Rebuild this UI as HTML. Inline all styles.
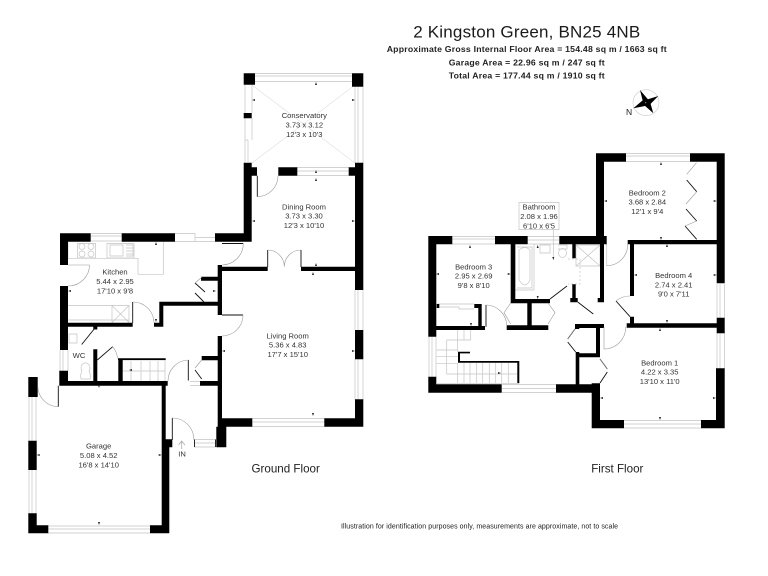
<!DOCTYPE html>
<html><head><meta charset="utf-8"><style>
html,body{margin:0;padding:0;background:#fff}
svg{display:block;filter:blur(0.35px)}
text{font-family:"Liberation Sans",sans-serif;fill:#1a1a1a}
.r{font-size:7.6px;text-anchor:middle;fill:#333}
.b{font-size:8.7px;font-weight:bold;text-anchor:middle;fill:#222}
.f{font-size:11.6px;text-anchor:middle;fill:#222}
</style></head><body>
<svg xmlns="http://www.w3.org/2000/svg" width="768" height="576" viewBox="0 0 768 576">
<rect width="768" height="576" fill="#fff"/>
<!-- light lines -->
<g fill="none" stroke="#c4c4c4" stroke-width="0.7">
<!-- conservatory windows -->
<path d="M255 73.5H352M255 76H352M255 81.5H352"/>
<path d="M245 85V162M252 85V113M252 118V140M245 140H248M248 140V162"/>
<path d="M355 87V163M363 87V163M358 87V163"/>
<path d="M252 85L355 163M355 85L252 163" stroke="#e2e2e2"/>
<!-- dining window -->
<path d="M297 167.5H349M297 171H349M297 175.5H349"/>
<!-- kitchen windows -->
<path d="M91 233.5H122M91 236H122M91 241H122"/>
<path d="M175 233.5H195V241.5H215M175 241.5H195M195 237.5H215"/>
<!-- kitchen units -->
<path d="M68 242V258.3H138V274.3H163.3V242M77.5 243.5H95.5V258H77.5ZM107 243.5H134V258H107Z"/>
<circle cx="82" cy="246.5" r="3"/><circle cx="91" cy="246.5" r="3"/><circle cx="82" cy="254" r="3"/><circle cx="91" cy="254" r="3"/>
<path d="M110 245H123V256H110ZM126 245H133V256H126M126 248H133M126 251H133M126 254H133"/>
<path d="M68 305.5H129V322.5M68 320H129M112 305.5V322.5M112 305.5L129 322.5M129 305.5L112 322.5" />
<!-- WC -->
<path d="M69 334H77V343H69ZM81 379H90C91 376 90 373 89 371A4.5 5 0 1 0 82 371C81 373 80 376 81 379Z"/>
<path d="M60 350V371M63 350V371M68 350V371"/>
<!-- stairs -->
<path d="M122 360H165V381M123 371H165M131 361V381M141 361V381M150 361V381M158 361V381"/>
<!-- garage windows -->
<path d="M29 397V441M32 397V441M36 397V441M29 470V514M32 470V514M36 470V514"/>
<path d="M48 526H150M48 529H150M48 533H150"/>
<!-- living windows -->
<path d="M355 290V330M358 290V330M363 290V330M355 359V400M358 359V400M363 359V400"/>
<path d="M252 418.5H325M252 422H325M252 426.5H325"/>
<path d="M194 439.5H216M194 443H216M194 447H216"/>
<path d="M190 381.5H200M190 385.5H200"/>
<!-- first floor windows -->
<path d="M626 153.5H690M626 156H690M626 161.5H690"/>
<path d="M452 236.5H495M452 239H495M452 244H495M528 236.5H559M528 240H559M528 244H559"/>
<path d="M717 284V318M720 284V318M724.5 284V318M717 333V369M720 333V369M724.5 333V369"/>
<path d="M429 337V377M432 337V377M436 337V377"/>
<path d="M502 384.5H556M502 388.5H556M502 392.5H556"/>
<path d="M624 420.5H701M624 424H701M624 428H701"/>
<!-- bathroom -->
<path d="M519 202.5H559V229.5H519ZM553.3 229.5V260"/>
<path d="M515 244V290H534V244M517 247H532V288H517M519 250Q525 245 530 250V280Q525 290 519 280Z"/>
<path d="M540 245H550V253H540ZM558 245H567V249H558M558.5 253A4 4.5 0 1 0 566.5 253A4 4.5 0 1 0 558.5 253"/>
<path d="M576 245H600V266H576ZM576 245L600 266M600 245L576 266"/>
<path d="M568 259H580V284H568" stroke-dasharray="2 2"/>
<!-- bedroom 3 cupboard -->
<path d="M437 304H474M437 307H459V309H474"/>
<!-- first floor stairs -->
<path d="M457.7 329V352M464 329V340M470.7 329V340M446.7 340H470.7M436.7 350H458M436.7 356.7H458M436.7 363.3H458M446.7 340V374H517M457.7 363V383.3M464 363V383.3M470 363V383.3M476.7 363V383.3M482.7 363V383.3M489.3 363V383.3M495.7 363V383.3M501.7 363V383.3M508.3 363V383.3M437 383.3H517"/>
<path d="M606.7 244V265.7"/>
</g>
<!-- walls -->
<path fill="#000" d="
M243.7 73.3h11.3v11.4h-11.3z M352 73.3h11.3v13.4h-11.3z M243.7 113h8v5.3h-8z
M243.7 162.7h8v79h-8z M355 162.7h8.3v127.3h-8.3z M251.7 167.3h5.3v8.4h-5.3z M278.3 167.3h19v8.4h-19z M348.7 167.3h6.3v8.4h-6.3z
M60 233.3h30.7v8.4H60z M121.7 233.3H175v8.4h-53.3z M215 233.3h36.7v8.4H215z M60 233.3h8V265h-8z M60 286h8v64h-8z M59.3 370.7H68V385h-8.7z
M220 266.7h47.7v4.3H220z M301 266.7h54v4.3h-54z
M217.7 265h4.3v50h-4.3z M217.7 336h4.3v107h-4.3z M216.3 426.7h10v20.6h-10z M222 418.3h30.3v8.4H222z M324.3 418.3h39v8.4h-39z M355 399.3h8.3v27.4H355z M355 330h8.3v29.3H355z
M159.3 301.7H220v4H159.3z M159.3 301.7h4v25h-4z M154 322.7h9.3v4H154z M68 322.7h64.7v4H68z
M93.3 349.3h4v32.4h-4z M93.3 326h4v3.5h-4z M118.3 358.3h4.4v23.4h-4.4z M118 358.3h47.7v1.7H118z
M59.3 381h108.4v4.7H59.3z M161.7 385h4v55h-4z M161.7 439.3h10.6v8h-10.6z M161.7 446h7.6v87.3h-7.6z M150 525.3h19.3v8H150z M28.3 525.3h20v8h-20z M28.3 513.3h8.4v20h-8.4z M28.3 440.7h8.4V470h-8.4z M28.3 377h9.4v20h-9.4z
M201.7 356H220v4.3h-18.3z M200 381h20v4.7h-20z M201 276.7h19v4h-19z
M596 153.3h30v8.4h-30z M690 153.3h34.7v8.4H690z M596 153.3h8V240h-8z M716.7 153.3h8v130h-8z M627.7 240h89v4.3h-89z
M559.3 236h47.4v8.3h-47.4z M495 236h32.7v8.3H495z M428.3 236h24v8.3h-24z M428.3 236h8v100.7h-8z
M510.7 244h4.6v59.3h-4.6z M510.7 299H550v4.3h-39.3z M527.3 303h4.4v25h-4.4z M506.7 325.3h41.6v4.7h-41.6z M436 326h49v4h-49z M474.3 304h7.4v4h-7.4z M478.3 304h3.4v24h-3.4z M436.7 304h2.6v4h-2.6z
M572.3 244h3.4v14.3h-3.4z M572.3 284.3h3.4v17.4h-3.4z M570.3 298h7.4v4.3h-7.4z M600 244h4v58.3h-4z M597.7 298h6.3v4.3h-6.3z
M630 244h4v52h-4z M626.7 323.3h90v4.4h-90z M630 316.7h4v7.3h-4z M716.7 317.7h8v15.6h-8z
M716 368.3h8.7v60H716z M591.7 420H624v8.3h-32.3z M701 420h23.7v8.3H701z M591.7 383.3h8.3v45h-8.3z
M428.3 384.3h73.4v8.4h-73.4z M556 384.3h44v8.4h-44z M428.3 376.7h8v16h-8z
M575 324h29v4h-29z M575 324h4.3v5h-4.3z M575.7 352h3.6v34h-3.6z M575.7 353.3H600v4h-24.3z M596 324h4v33h-4z
M458.3 351.7H470v1.7h-11.7z M458 351.7h2v11h-2z M458 361h61.3v1.7H458z M517.3 361h2v22.3h-2z
"/>
<!-- doors (black leaves) -->
<g fill="none" stroke="#111" stroke-width="0.9">
<path d="M257.3 175.7V196.7M222 243.5H243.3M267.7 250V267M301 250V267M132.7 302V323M222 315H243M188.3 360V380.5M172.3 418V440M58.3 385.7V406.7M486 305V326.7"/>
<path d="M194.5 439.5V447M215.5 439.5V447"/>
<path d="M81.7 344.5L95 328M97.3 360L112.7 346.7"/>
<path d="M195 283L205 292M195 293L204 302M195 370L201.7 379"/>
<path d="M550 299L567 286M577.7 302L593.3 314M616 301L630 316.7"/>
<path d="M686.7 180L696.7 191.7M686 209L696.7 221M685 226L696.7 239.3"/>
<path d="M575 329L567.7 339M567.7 342L575.7 352M600 359L607.3 369M607.3 372L600 383"/>
</g>
<g fill="none" stroke="#999" stroke-width="0.6">
<path d="M278 175.7A21 21 0 0 1 257.3 196.7M243.3 243.5A21.5 21.5 0 0 1 222 265M267.7 250A16.7 16.7 0 0 1 284.3 266.7M300.7 250A16.7 16.7 0 0 0 284.3 266.7"/>
<path d="M68 265H89.5M89.5 265A21.5 21 0 0 1 68 286M133 302A21 21 0 0 1 154 322.7M243 315A21 21 0 0 1 222 336M168 381A21 21 0 0 1 188.3 360M37.7 385.7A21 21 0 0 0 58.3 406.7M172.3 418A21.7 22 0 0 1 194 440M112.7 346.7Q116.5 351 117.7 358.3"/>
<path d="M606.7 265.7A21 21 0 0 0 627.7 244M486 305A21 21 0 0 1 506.7 325.3M604 327V349A21.7 21.7 0 0 0 625.7 327M630 296A21 21 0 0 0 616 301"/>
<path d="M510.7 303L504 312.7L510.7 324M548 303L555 312.7L548 324M575 329L567.7 339M600 359L607.3 369"/>
<path d="M696.5 162.7L686.7 174.3M696.7 191.7L686 204M696.7 221L685 226"/>
<path d="M195 283L202 277M201.7 360L195 368"/>
</g>
<!-- arrow markers -->
<g fill="#222">
<path d="M316 82l-1 3h2zM252 100l3 -1v2zM355 100l-3 -1v2zM316 170l-1 3h2zM316 178l-1 3h2zM252 221l3 -1v2zM355 221l-3 -1v2zM316 263l-1 3h2zM313 272l-1 3h2zM156 242l-1 3h2zM68 291l3 -1v2zM216 291l-3 -1v2zM156 322l-1 -3h2zM222 351l3 -1v2zM355 351l-3 -1v2zM313 416l-1 -3h2zM99 388l-1 -3h2zM36.7 455l3 -1v2zM161.7 455l-3 -1v2zM99 525l-1 -3h2zM129 370l3 -1v2z
M661 162l-1 3h2zM604 201l3 -1v2zM716.7 201l-3 -1v2zM661 240l-1 -3h2zM667 244l-1 3h2zM634 275l3 -1v2zM716.7 275l-3 -1v2zM667 323l-1 -3h2zM660 328l-1 3h2zM600 398l3 -1v2zM716 398l-3 -1v2zM660 420l-1 -3h2zM470 245l-1 3h2zM436 274l3 -1v2zM510.7 274l-3 -1v2zM471 326l-1 -3h2zM553.3 260l-1 -3h2zM537.7 245l-1 3h2zM537.7 299l-1 -3h2zM501 373l-3 -1v2z"/>
</g>
<!-- IN arrow -->
<path d="M181.7 449V441.5M178.5 445L181.7 441L185 445" fill="none" stroke="#aaa" stroke-width="0.8"/>
<!-- compass -->
<circle cx="646" cy="102.7" r="13" fill="none" stroke="#ccc" stroke-width="0.6"/>
<path d="M640 90L643.5 104L648.5 100Z M658.3 96L644 100.5L649 105.5Z M653.3 113.3L649.5 100L644 105Z M633.3 108.3L647.5 105.5L643 100Z" fill="#000"/>
<!-- text -->
<text x="526.7" y="37.3" font-size="17" text-anchor="middle" fill="#222" textLength="227">2 Kingston Green, BN25 4NB</text>
<text class="b" x="526.7" y="52" textLength="280">Approximate Gross Internal Floor Area = 154.48 sq m / 1663 sq ft</text>
<text class="b" x="526.7" y="65.3" textLength="156">Garage Area = 22.96 sq m / 247 sq ft</text>
<text class="b" x="526.7" y="78.3" textLength="156">Total Area = 177.44 sq m / 1910 sq ft</text>
<text x="626" y="115" font-size="8.5">N</text>

<text class="r" x="304.3" y="118">Conservatory</text><text class="r" x="304.3" y="127.5">3.73 x 3.12</text><text class="r" x="304.3" y="137">12'3 x 10'3</text>
<text class="r" x="304" y="209.3">Dining Room</text><text class="r" x="304" y="218.7">3.73 x 3.30</text><text class="r" x="304" y="228">12'3 x 10'10</text>
<text class="r" x="115" y="274.7">Kitchen</text><text class="r" x="115" y="284">5.44 x 2.95</text><text class="r" x="115" y="293.3">17'10 x 9'8</text>
<text class="r" x="287.7" y="338.3">Living Room</text><text class="r" x="287.7" y="347.7">5.36 x 4.83</text><text class="r" x="287.7" y="357">17'7 x 15'10</text>
<text class="r" x="98.7" y="448.7">Garage</text><text class="r" x="98.7" y="458">5.08 x 4.52</text><text class="r" x="98.7" y="467.3">16'8 x 14'10</text>
<text class="r" x="79" y="358">WC</text>
<text class="r" x="182" y="456.5">IN</text>
<text class="f" x="285.7" y="472.7">Ground Floor</text>
<text class="f" x="617.3" y="472.7">First Floor</text>
<text class="r" x="473.7" y="269.3">Bedroom 3</text><text class="r" x="473.7" y="278.7">2.95 x 2.69</text><text class="r" x="473.7" y="288">9'8 x 8'10</text>
<text class="r" x="647.3" y="195.3">Bedroom 2</text><text class="r" x="647.3" y="204.7">3.68 x 2.84</text><text class="r" x="647.3" y="214">12'1 x 9'4</text>
<text class="r" x="673.7" y="278">Bedroom 4</text><text class="r" x="673.7" y="287.3">2.74 x 2.41</text><text class="r" x="673.7" y="296.7">9'0 x 7'11</text>
<text class="r" x="539" y="209.7">Bathroom</text><text class="r" x="539" y="219">2.08 x 1.96</text><text class="r" x="539" y="228.3">6'10 x 6'5</text>
<text class="r" x="659.7" y="365.3">Bedroom 1</text><text class="r" x="659.7" y="374.7">4.22 x 3.35</text><text class="r" x="659.7" y="384">13'10 x 11'0</text>
<text x="341" y="528.5" font-size="7" fill="#333" textLength="277">Illustration for identification purposes only, measurements are approximate, not to scale</text>
</svg>
</body></html>
